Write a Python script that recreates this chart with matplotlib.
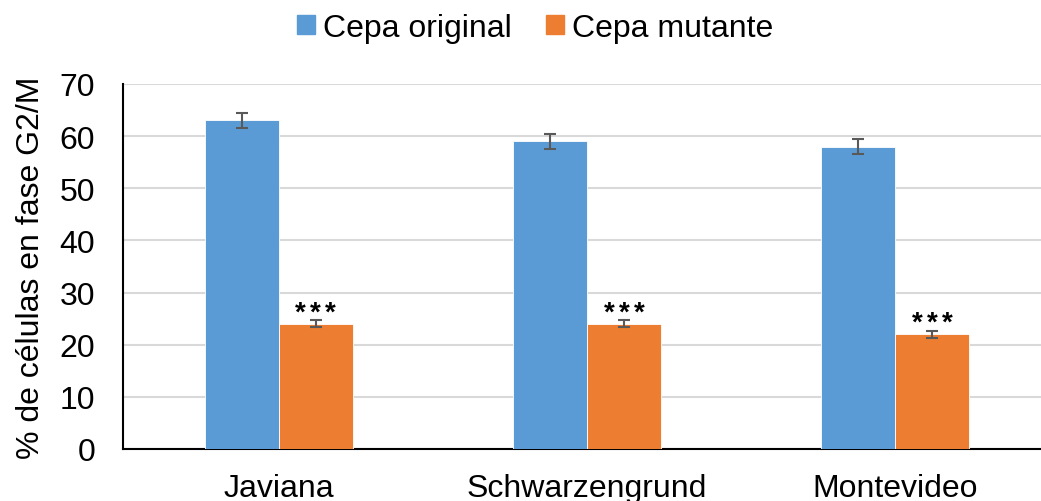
import matplotlib
matplotlib.use("Agg")
import matplotlib.pyplot as plt
import numpy as np
from matplotlib.patches import Patch

plt.rcParams['font.family'] = ['Liberation Sans', 'DejaVu Sans']

categories = ["Javiana", "Schwarzengrund", "Montevideo"]
original = [63, 59, 58]
original_err = [1.5, 1.5, 1.5]
mutante = [24, 24, 22]
mutante_err = [0.7, 0.7, 0.7]
significance = ["***", "***", "***"]

blue = "#5B9BD5"
orange = "#ED7D31"
err_color = "#595959"

fig = plt.figure(figsize=(10.41, 5.02), dpi=100)
ax = fig.add_axes([0.118, 0.1036, 0.882, 0.7271])

x = np.arange(len(categories))
w = 0.24
ekw = dict(ecolor=err_color, elinewidth=1.5, capsize=4.5, capthick=1.5)
ax.bar(x - w / 2, original, w, yerr=original_err, color=blue,
       edgecolor="white", linewidth=0.6, error_kw=ekw, zorder=3)
ax.bar(x + w / 2, mutante, w, yerr=mutante_err, color=orange,
       edgecolor="white", linewidth=0.6, error_kw=ekw, zorder=3)

# significance marks above the mutant bars, one loosely spaced glyph at a time
step = 10.8
for xi, v, e, s in zip(x, mutante, mutante_err, significance):
    n = len(s)
    for k, ch in enumerate(s):
        ax.annotate(ch, (xi + w / 2, v + e + 0.1),
                    xytext=((k - (n - 1) / 2) * step, 0),
                    textcoords="offset points", ha="center", va="baseline",
                    fontsize=20, fontweight="bold", zorder=4)

ax.set_xlim(-0.506, 2.474)
ax.set_ylim(0, 70)
ax.set_yticks(range(0, 71, 10))
ax.set_xticks(x)
ax.set_xticklabels(categories)
ax.tick_params(axis="both", length=0, labelsize=23)
ax.tick_params(axis="x", pad=17)
ax.tick_params(axis="y", pad=20)
ax.set_ylabel("% de células en fase G2/M", fontsize=23, labelpad=10)

ax.grid(axis="y", color="#D9D9D9", linewidth=1.5, zorder=0)
ax.set_axisbelow(True)
for side in ["top", "right"]:
    ax.spines[side].set_visible(False)
for side in ["left", "bottom"]:
    ax.spines[side].set_color("black")
    ax.spines[side].set_linewidth(1.5)

handles = [Patch(color=blue, label="Cepa original"),
           Patch(color=orange, label="Cepa mutante")]
fig.legend(handles=handles, loc="center", bbox_to_anchor=(0.514, 0.942),
           ncol=2, frameon=False, fontsize=23, handlelength=0.55,
           handleheight=0.55, handletextpad=0.25, columnspacing=1.1,
           borderaxespad=0)

fig.savefig("out.png", dpi=100)
